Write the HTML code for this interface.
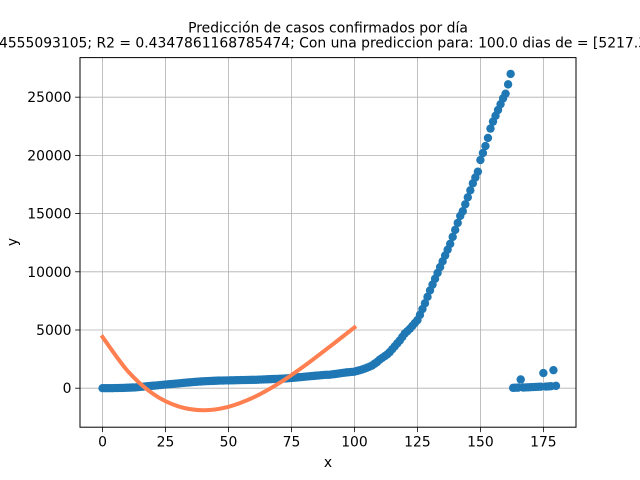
<!DOCTYPE html>
<html><head><meta charset="utf-8"><style>
html,body{margin:0;padding:0;background:#fff;}
svg{display:block;font-family:"DejaVu Sans","Liberation Sans",sans-serif;}
</style></head><body>
<svg id="chart" width="640" height="480" viewBox="0 0 640 480">
<rect width="640" height="480" fill="#fff"/>
<text x="328" y="32.5" font-size="13.9" text-anchor="middle">Predicción de casos confirmados por día</text>
<text x="-1" y="47.5" font-size="13.9">4555093105; R2 = 0.4347861168785474; Con una prediccion para: 100.0 dias de = [5217.38]</text>
<g id="grid"></g>
<g id="series"></g>
<rect x="80" y="57.6" width="496" height="369.6" fill="none" stroke="#000" stroke-width="1"/>
<g id="ticks"></g>
<text x="328" y="467" font-size="13.9" text-anchor="middle">x</text>
<text x="17" y="242" font-size="13.9" text-anchor="middle" transform="rotate(-90 17 242)">y</text>
</svg>
<script>
const xTicks=[0,25,50,75,100,125,150,175];
const yTicks=[0,5000,10000,15000,20000,25000];
const casesY=[0,0,0,0,5,10,15,20,25,30,40,50,60,70,90,
110,130,150,170,190,210,230,250,270,290,310,330,350,370,390,
410,430,450,470,490,510,530,545,560,575,590,600,610,620,630,
640,650,655,660,665,670,675,680,685,690,695,700,705,710,715,
720,725,730,740,750,760,770,780,790,800,810,820,830,840,860,
880,900,920,940,960,980,1000,1020,1040,1060,1080,1100,1120,1140,1150,
1150,1180,1210,1240,1270,1300,1330,1360,1380,1400,
1420,1480,1540,1600,1680,1760,1850,1950,2100,2250,
2450,2600,2750,2900,3100,3350,3600,3850,4100,4400,
4700,4900,5100,5350,5600,5850,6300,6800,7300,7850,
8400,8900,9400,9900,10400,10900,11400,11900,12400,13000,
13600,14200,14800,15200,15800,16400,17000,17600,18100,18600,
19600,20200,20800,21500,22300,22900,23400,23900,24400,24900,
25300,26100,27000,
30,40,50,750,60,70,80,90,100,110,120,130,1300,140,150,170,1550,200];
const fitX=[0,10,20,30,40,50,60,70,80,90,100];
const fitY=[4400,1472,-474,-1555,-1889,-1594,-786,416,1897,3537,5217];

const xMin=-8.95,xMax=187.95,yMin=-3350,yMax=28400;
const L=80,R=576,T=57.6,B=427.2;
function sx(v){return L+(v-xMin)/(xMax-xMin)*(R-L);}
function sy(v){return B-(v-yMin)/(yMax-yMin)*(B-T);}
const NS="http://www.w3.org/2000/svg";
function mk(tag,attrs,parent){const e=document.createElementNS(NS,tag);for(const k in attrs)e.setAttribute(k,attrs[k]);parent.appendChild(e);return e;}
const grid=document.getElementById('grid'),ticks=document.getElementById('ticks'),series=document.getElementById('series');
xTicks.forEach(t=>{
 const x=sx(t);
 const g=mk('line',{x1:x,x2:x,y1:T,y2:B,stroke:'#b0b0b0','stroke-width':0.8},grid);
 
 
 const tk=mk('line',{x1:x,x2:x,y1:B,y2:B+4.9,stroke:'#000','stroke-width':0.8},ticks);
 
 
 const lb=mk('text',{x:x,y:B+19.5,'font-size':13.9,'text-anchor':'middle'},ticks);
 lb.textContent=String(t);
 
 
});
yTicks.forEach(t=>{
 const y=sy(t);
 const g=mk('line',{x1:L,x2:R,y1:y,y2:y,stroke:'#b0b0b0','stroke-width':0.8},grid);
 
 
 const tk=mk('line',{x1:L-4.9,x2:L,y1:y,y2:y,stroke:'#000','stroke-width':0.8},ticks);
 
 
 const lb=mk('text',{x:L-8.5,y:y+5,'font-size':13.9,'text-anchor':'end'},ticks);
 lb.textContent=String(t);
 
 
});
casesY.forEach((v,i)=>{
 const c=mk('circle',{cx:sx(i),cy:sy(v),r:4.2,fill:'#1f77b4'},series);
 
 
});
const pts=fitX.map((x,i)=>[sx(x),sy(fitY[i])]);
let d='M'+pts[0][0]+','+pts[0][1];
for(let i=0;i<pts.length-1;i++){
 const p0=pts[Math.max(0,i-1)],p1=pts[i],p2=pts[i+1],p3=pts[Math.min(pts.length-1,i+2)];
 const c1=[p1[0]+(p2[0]-p0[0])/6,p1[1]+(p2[1]-p0[1])/6];
 const c2=[p2[0]-(p3[0]-p1[0])/6,p2[1]-(p3[1]-p1[1])/6];
 d+=' C'+c1[0]+','+c1[1]+' '+c2[0]+','+c2[1]+' '+p2[0]+','+p2[1];
}
const fit=mk('path',{d:d,fill:'none',stroke:'#ff7f50','stroke-width':4,'stroke-linecap':'square'},series);


</script>
</body></html>
